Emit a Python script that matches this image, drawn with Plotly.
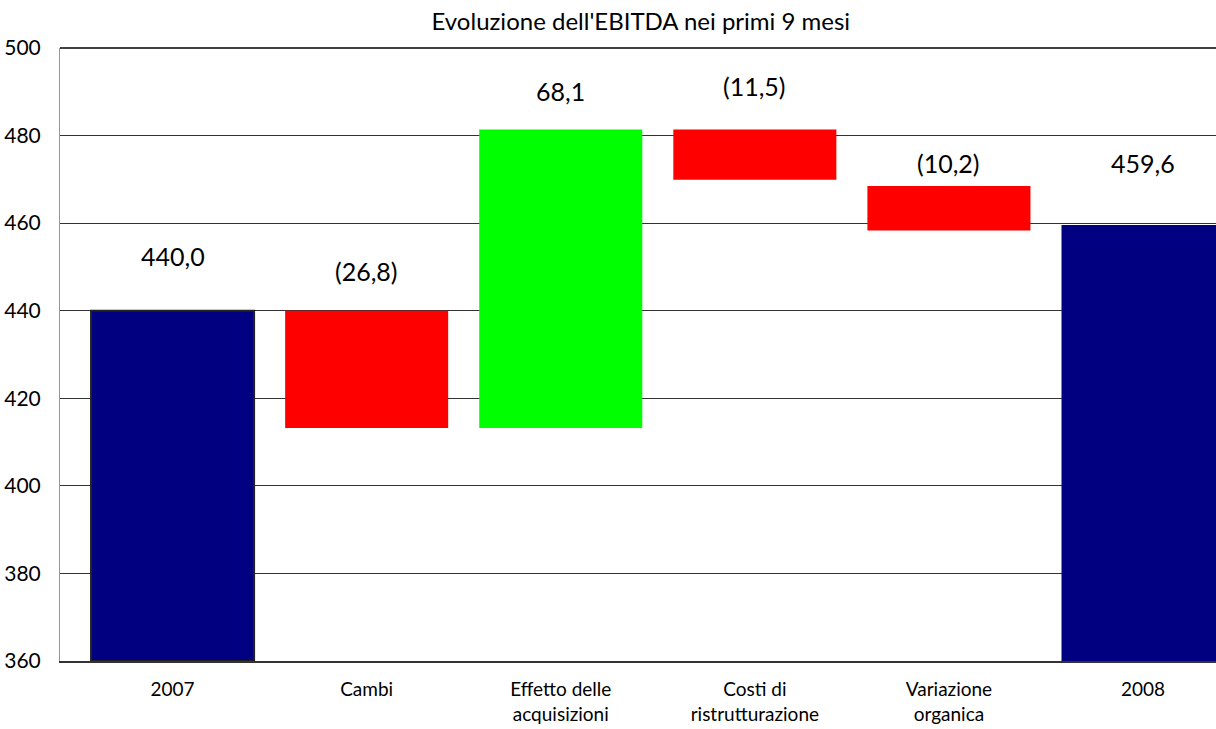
import plotly.graph_objects as go

categories = ["2007", "Cambi", "Effetto delle<br>acquisizioni", "Costi di<br>ristrutturazione", "Variazione<br>organica", "2008"]
value_labels = ["440,0", "(26,8)", "68,1", "(11,5)", "(10,2)", "459,6"]
bar_bottom = [360.0, 413.2, 413.2, 469.9, 458.3, 360.0]
bar_top = [440.0, 440.0, 481.4, 481.4, 468.5, 459.6]
label_y = [452.5, 449.1, 490.2, 491.3, 473.7, 473.7]
bar_colors = ["#000080", "#FF0000", "#00FF00", "#FF0000", "#FF0000", "#000080"]
border_widths = [2, 0, 0, 0, 0, 0]

FONT = "Lato, 'Open Sans', sans-serif"

fig = go.Figure()
fig.add_trace(go.Bar(
    x=list(range(len(categories))),
    y=[t - b for t, b in zip(bar_top, bar_bottom)],
    base=bar_bottom,
    width=0.84,
    marker=dict(color=bar_colors, line=dict(color="#222222", width=border_widths)),
    hoverinfo="skip",
    showlegend=False,
))

for i, (lab, ly) in enumerate(zip(value_labels, label_y)):
    fig.add_annotation(x=i, y=ly, text=lab, showarrow=False,
                       font=dict(family=FONT, size=25, color="#000000"),
                       xanchor="center", yanchor="middle")

# top frame line of the plot area
fig.add_shape(type="line", xref="paper", yref="paper", x0=0, x1=1, y0=1, y1=1,
              line=dict(color="#000000", width=1.5))

fig.update_layout(
    width=1216, height=729,
    margin=dict(l=60, r=0, t=48, b=68),
    plot_bgcolor="white", paper_bgcolor="white",
    title=dict(text="Evoluzione dell'EBITDA nei primi 9 mesi", x=0.527, xanchor="center",
               y=0.97, yanchor="middle", font=dict(family=FONT, size=24, color="#000000")),
    font=dict(family=FONT, color="#000000"),
)
fig.update_xaxes(
    tickmode="array", tickvals=list(range(len(categories))), ticktext=categories,
    range=[-0.58, 5.376], showgrid=False, zeroline=False,
    showline=True, linecolor="#333333", linewidth=2,
    ticks="outside", ticklen=10, tickcolor="rgba(0,0,0,0)",
    tickfont=dict(family=FONT, size=19, color="#000000"),
)
fig.update_yaxes(
    range=[360, 500], dtick=20, tick0=360,
    showgrid=True, gridcolor="#333333", gridwidth=1, zeroline=False,
    showline=True, linecolor="#999999", linewidth=1,
    ticks="outside", ticklen=14, tickcolor="rgba(0,0,0,0)",
    tickfont=dict(family=FONT, size=21, color="#000000"),
)

fig.write_html("out.html")
